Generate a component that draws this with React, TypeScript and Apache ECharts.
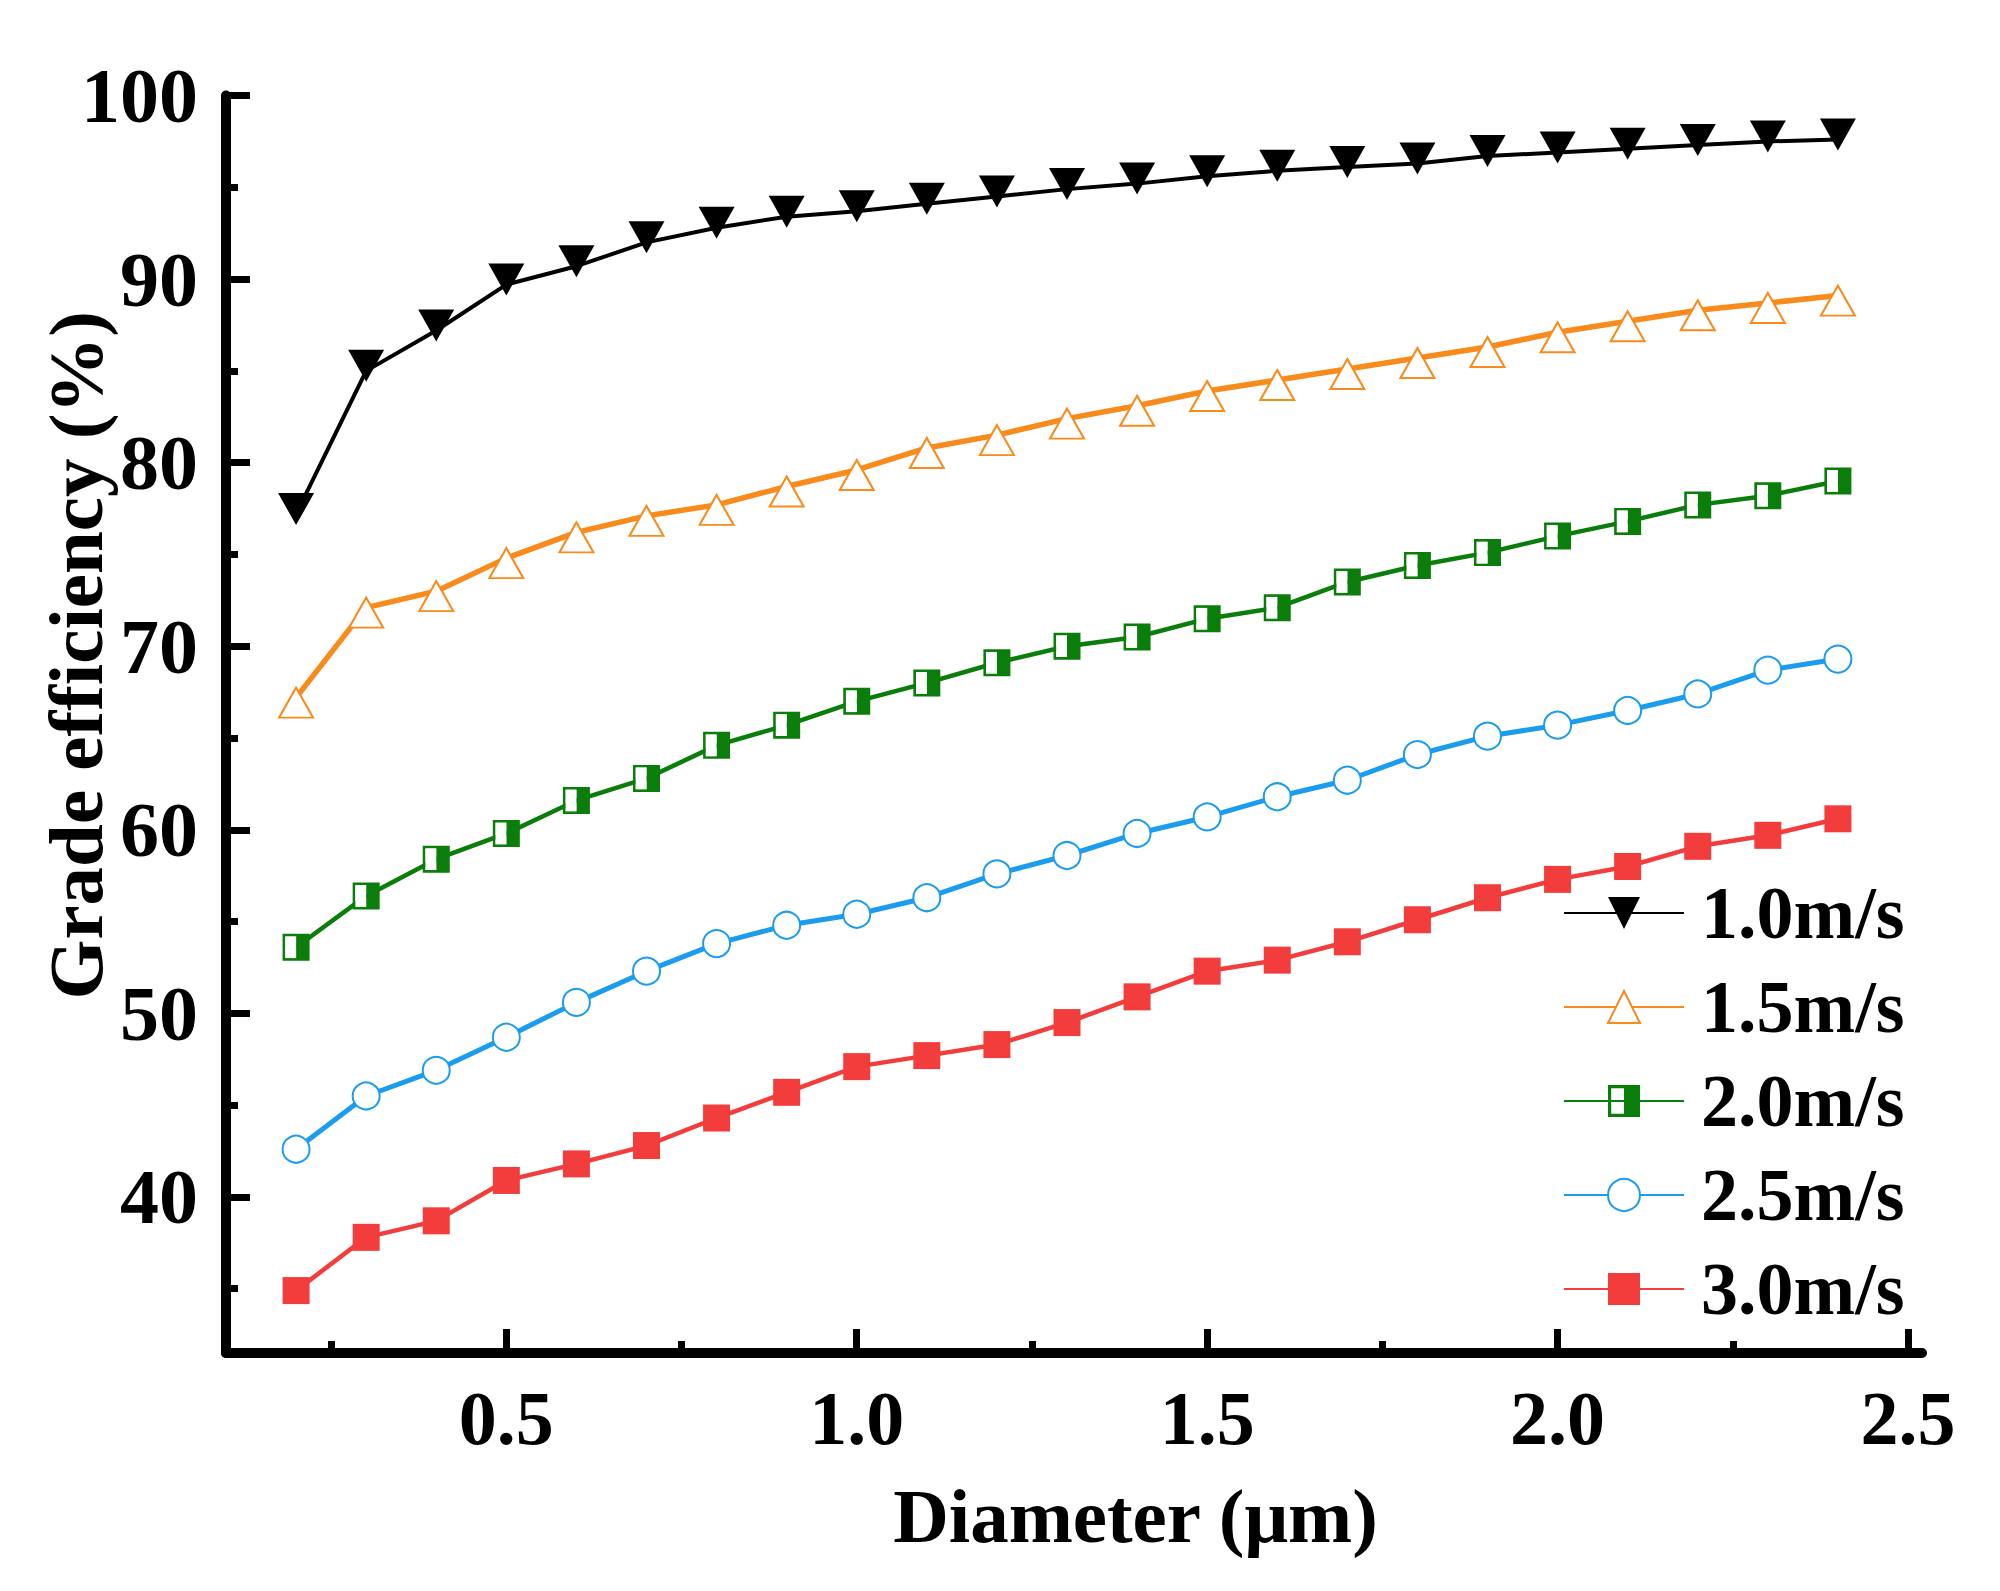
import React, { useEffect, useRef } from "react";
import * as echarts from "echarts";

const diameters = [0.2, 0.3, 0.4, 0.5, 0.6, 0.7, 0.8, 0.9, 1.0, 1.1, 1.2, 1.3, 1.4, 1.5, 1.6, 1.7, 1.8, 1.9, 2.0, 2.1, 2.2, 2.3, 2.4];
const eff10 = [77.2, 85.0, 87.2, 89.7, 90.7, 92.0, 92.8, 93.4, 93.7, 94.1, 94.5, 94.9, 95.2, 95.6, 95.9, 96.1, 96.3, 96.7, 96.9, 97.1, 97.3, 97.5, 97.6];
const eff15 = [67.2, 72.1, 73.0, 74.8, 76.2, 77.1, 77.7, 78.7, 79.6, 80.8, 81.5, 82.4, 83.1, 83.9, 84.5, 85.1, 85.7, 86.3, 87.1, 87.7, 88.3, 88.7, 89.1];
const eff20 = [53.6, 56.4, 58.4, 59.8, 61.6, 62.8, 64.6, 65.7, 67.0, 68.0, 69.1, 70.0, 70.5, 71.5, 72.1, 73.5, 74.4, 75.1, 76.0, 76.8, 77.7, 78.2, 79.0];
const eff25 = [42.6, 45.5, 46.9, 48.7, 50.6, 52.3, 53.8, 54.8, 55.4, 56.3, 57.6, 58.6, 59.8, 60.7, 61.8, 62.7, 64.1, 65.1, 65.7, 66.5, 67.4, 68.7, 69.3];
const eff30 = [34.9, 37.8, 38.7, 40.9, 41.8, 42.8, 44.3, 45.7, 47.1, 47.7, 48.3, 49.5, 50.9, 52.3, 52.9, 53.9, 55.1, 56.3, 57.3, 58.0, 59.1, 59.7, 60.6];

const seriesNames = ["1.0m/s", "1.5m/s", "2.0m/s", "2.5m/s", "3.0m/s"];
const xMajorTicks = [0.5, 1.0, 1.5, 2.0, 2.5];
const xMinorTicks = [0.25, 0.75, 1.25, 1.75, 2.25];
const yMajorTicks = [40, 50, 60, 70, 80, 90, 100];
const yMinorTicks = [35, 45, 55, 65, 75, 85, 95];

const FONT = '"Times New Roman", "Liberation Serif", serif';
const HALF_SQUARE = "path://M0 0H100V100H0Z M10 10V90H50V10Z";

function pairs(ys: number[]) {
  return diameters.map((x, i) => [x, ys[i]]);
}

export default function App() {
  const ref = useRef<HTMLDivElement>(null);

  useEffect(() => {
    if (!ref.current) return;
    const chart = echarts.init(ref.current, undefined, { renderer: "svg" });
    const labelStyle = { color: "#000", fontFamily: FONT, fontWeight: "bold" as const, fontSize: 76 };
    const xMin = 0.1, xMax = 2.52, yMin = 31.5, yMax = 100;

    const option: any = {
      animation: false,
      backgroundColor: "#fff",
      grid: { left: 226, right: 78, top: 95.5, bottom: 238, containLabel: false },
      legend: {
        data: seriesNames,
        orient: "vertical",
        left: 1563,
        top: 876,
        padding: 0,
        itemWidth: 120,
        itemHeight: 40,
        itemGap: 20,
        textStyle: { ...labelStyle, fontSize: 74, lineHeight: 74, padding: [0, 0, 0, 12] },
      },
      xAxis: [
        {
          type: "value",
          min: xMin,
          max: xMax,
          position: "bottom",
          axisLine: { show: true, onZero: false, lineStyle: { color: "#000", width: 10 } },
          axisTick: { show: true, inside: true, length: 24, lineStyle: { color: "#000", width: 7 }, customValues: xMajorTicks },
          axisLabel: { ...labelStyle, margin: 27, customValues: xMajorTicks, formatter: (v: number) => v.toFixed(1) },
          splitLine: { show: false },
          name: "Diameter (μm)",
          nameLocation: "middle",
          nameGap: 124,
          nameMoveOverlap: false,
          nameTextStyle: { ...labelStyle, fontSize: 77, padding: [0, 0, 0, 123] },
        },
        {
          type: "value",
          min: xMin,
          max: xMax,
          position: "bottom",
          axisLine: { show: false, onZero: false },
          axisTick: { show: true, inside: true, length: 12, lineStyle: { color: "#000", width: 7 }, customValues: xMinorTicks },
          axisLabel: { show: false },
          splitLine: { show: false },
        },
      ],
      yAxis: [
        {
          type: "value",
          min: yMin,
          max: yMax,
          position: "left",
          axisLine: { show: true, onZero: false, lineStyle: { color: "#000", width: 10 } },
          axisTick: { show: true, inside: true, length: 24, lineStyle: { color: "#000", width: 7 }, customValues: yMajorTicks },
          axisLabel: { ...labelStyle, fontSize: 78, margin: 28, customValues: yMajorTicks },
          splitLine: { show: false },
          name: "Grade efficiency (%)",
          nameLocation: "middle",
          nameGap: 112,
          nameMoveOverlap: false,
          nameTextStyle: { ...labelStyle, fontSize: 77, padding: [0, 0, 0, 138] },
        },
        {
          type: "value",
          min: yMin,
          max: yMax,
          position: "left",
          axisLine: { show: false, onZero: false },
          axisTick: { show: true, inside: true, length: 12, lineStyle: { color: "#000", width: 7 }, customValues: yMinorTicks },
          axisLabel: { show: false },
          splitLine: { show: false },
        },
      ],
      series: [
        {
          name: seriesNames[0],
          type: "line",
          data: pairs(eff10),
          symbol: "triangle",
          symbolRotate: 180,
          symbolSize: [36, 32],
          symbolOffset: [0, -5],
          color: "#000",
          lineStyle: { width: 4, color: "#000" },
          itemStyle: { color: "#000" },
          z: 6,
        },
        {
          name: seriesNames[1],
          type: "line",
          data: pairs(eff15),
          symbol: "emptyTriangle",
          symbolSize: [34, 30],
          symbolOffset: [0, 5],
          color: "#F98A1C",
          lineStyle: { width: 5.5, color: "#F98A1C" },
          itemStyle: { color: "#F98A1C", borderWidth: 2.5 },
          z: 5,
        },
        {
          name: seriesNames[2],
          type: "line",
          data: pairs(eff20),
          symbol: HALF_SQUARE,
          symbolSize: 27,
          color: "#0A7D0A",
          lineStyle: { width: 4.5, color: "#0A7D0A" },
          itemStyle: { color: "#0A7D0A" },
          z: 4,
        },
        {
          name: "2.0m/s-fill",
          type: "line",
          data: pairs(eff20),
          symbol: "rect",
          symbolSize: [10.8, 21.6],
          symbolOffset: [-5.4, 0],
          lineStyle: { opacity: 0, width: 0 },
          itemStyle: { color: "#fff" },
          silent: true,
          z: 4.5,
        },
        {
          name: seriesNames[3],
          type: "line",
          data: pairs(eff25),
          symbol: "emptyCircle",
          symbolSize: 27,
          color: "#1B9CEF",
          lineStyle: { width: 5, color: "#1B9CEF" },
          itemStyle: { color: "#1B9CEF", borderWidth: 2.5 },
          z: 3,
        },
        {
          name: seriesNames[4],
          type: "line",
          data: pairs(eff30),
          symbol: "rect",
          symbolSize: 27,
          color: "#F33C3C",
          lineStyle: { width: 4.5, color: "#F33C3C" },
          itemStyle: { color: "#F33C3C" },
          z: 2,
        },
      ],
    };

    chart.setOption(option);
    return () => chart.dispose();
  }, []);

  return (
    <div
      ref={ref}
      style={{ position: "absolute", left: 0, top: 0, width: 2000, height: 1591, background: "#fff" }}
    />
  );
}
